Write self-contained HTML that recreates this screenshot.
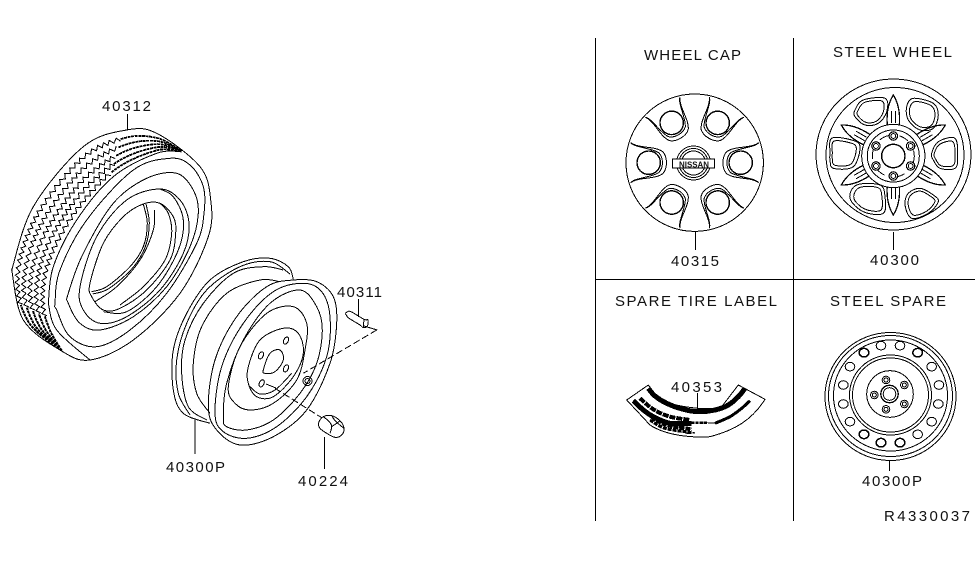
<!DOCTYPE html>
<html><head><meta charset="utf-8"><style>
html,body{margin:0;padding:0;background:#fff;width:975px;height:566px;overflow:hidden}
svg{position:absolute;left:0;top:0}
text{font-family:"Liberation Sans",sans-serif;font-size:15px;fill:#111}
#d path,#d circle,#d ellipse,#d line{fill:none;stroke:#000;stroke-width:1;shape-rendering:crispEdges}
</style></head><body>
<svg width="975" height="566" viewBox="0 0 975 566" xmlns="http://www.w3.org/2000/svg">
<rect width="975" height="566" fill="#fff"/>
<g id="d">
<line x1="595.5" y1="38" x2="595.5" y2="521"/>
<line x1="793.5" y1="38" x2="793.5" y2="521"/>
<line x1="595" y1="279.5" x2="975" y2="279.5"/>
<line x1="127.5" y1="114" x2="127.5" y2="130"/>
<line x1="195" y1="420" x2="195" y2="454"/>
<line x1="324.5" y1="437" x2="324.5" y2="469"/>
<line x1="358.5" y1="299" x2="358.5" y2="317"/>
<line x1="695.5" y1="232" x2="695.5" y2="250"/>
<line x1="893.5" y1="232" x2="893.5" y2="250"/>
<line x1="889.5" y1="460" x2="889.5" y2="471"/>
<line x1="697.5" y1="393" x2="697.5" y2="410"/>
</g>
<g>
<text x="102" y="111" textLength="49" lengthAdjust="spacing">40312</text>
<text x="337" y="297" textLength="45" lengthAdjust="spacing">40311</text>
<text x="166" y="472" textLength="59" lengthAdjust="spacing">40300P</text>
<text x="298" y="486" textLength="50" lengthAdjust="spacing">40224</text>
<text x="644" y="60" textLength="97" lengthAdjust="spacing">WHEEL CAP</text>
<text x="833" y="57" textLength="119" lengthAdjust="spacing">STEEL WHEEL</text>
<text x="671" y="266" textLength="48" lengthAdjust="spacing">40315</text>
<text x="870" y="265" textLength="49" lengthAdjust="spacing">40300</text>
<text x="615" y="306" textLength="162" lengthAdjust="spacing">SPARE TIRE LABEL</text>
<text x="830" y="306" textLength="116" lengthAdjust="spacing">STEEL SPARE</text>
<text x="671" y="392" textLength="51" lengthAdjust="spacing">40353</text>
<text x="862" y="486" textLength="60" lengthAdjust="spacing">40300P</text>
<text x="884" y="521" textLength="86" lengthAdjust="spacing">R4330037</text>
<text x="679" y="167.5" textLength="30" lengthAdjust="spacingAndGlyphs" style="font-size:8px;font-weight:bold">NISSAN</text>
</g>
</svg>
<script>
(function(){
var NS='http://www.w3.org/2000/svg',d=document.getElementById('d');
function el(t,a,p){var e=document.createElementNS(NS,t);for(var k in a)e.setAttribute(k,a[k]);(p||d).appendChild(e);return e;}
function path(s,w,g,dash){var a={d:s};var e=el('path',a,g);if(w)e.style.strokeWidth=w;if(dash)e.style.strokeDasharray=dash;return e;}
function sm(p,closed){var n=p.length,s='M'+p[0][0].toFixed(1)+','+p[0][1].toFixed(1);
 function g(i){return closed?p[(i+n)%n]:p[Math.max(0,Math.min(n-1,i))];}
 for(var i=0;i<(closed?n:n-1);i++){var a=g(i-1),b=g(i),c=g(i+1),e=g(i+2);
  s+='C'+(b[0]+(c[0]-a[0])/6).toFixed(1)+','+(b[1]+(c[1]-a[1])/6).toFixed(1)+' '+(c[0]-(e[0]-b[0])/6).toFixed(1)+','+(c[1]-(e[1]-b[1])/6).toFixed(1)+' '+c[0].toFixed(1)+','+c[1].toFixed(1);}
 return s+(closed?'Z':'');}
function Z(ox,oy){return function(a,closed,w,dash,g){var p=a.map(function(q){return [ox+q[0]/3,oy+q[1]/3];});path(sm(p,closed),w,g,dash);};}
function sample(p,m){var out=[],n=p.length;function g(i){return p[Math.max(0,Math.min(n-1,i))];}
 for(var i=0;i<n-1;i++){var a=g(i-1),b=g(i),c=g(i+1),e=g(i+2);
  for(var j=0;j<m;j++){var t=j/m,t2=t*t,t3=t2*t;
   out.push([0,1].map(function(k){return .5*(2*b[k]+(c[k]-a[k])*t+(2*a[k]-5*b[k]+4*c[k]-e[k])*t2+(3*b[k]-a[k]-3*c[k]+e[k])*t3);}));}}
 out.push(p[n-1]);return out;}

/* TIRE */
var T=Z(0,90);
T([[35,540],[100,350],[250,170],[380,120],[470,130],[600,230],[632,330],[625,440],[540,610],[400,750],[270,810],[180,780],[70,690],[35,540]]);
T([[145,640],[160,530],[230,390],[340,260],[470,190],[545,185]]);
T([[145,640],[170,720],[270,810]]);
T([[165,640],[180,540],[260,390],[400,240],[510,205],[570,225],[610,290],[612,370],[590,460],[500,610],[390,720],[290,770],[210,740],[170,660]],true);
T([[205,610],[250,490],[340,340],[440,265],[530,250],[580,300],[595,370],[570,470],[500,590],[400,680],[300,720],[240,700],[205,640]],true);
T([[240,590],[290,440],[380,330],[480,297],[540,330],[567,400],[550,490],[480,600],[380,680],[300,700],[250,660]],true);
T([[270,580],[310,460],[370,380],[430,342],[480,340],[520,380],[527,430],[510,510],[440,600],[360,655],[310,660],[275,620]],true);
T([[480,297],[520,320],[550,390],[535,480],[470,590],[380,665],[310,665]]);
T([[480,340],[505,370],[515,430],[495,510],[430,590],[360,645]]);
T([[430,342],[442,400],[430,470],[390,530],[320,590],[275,605]]);
T([[438,342],[448,400],[436,470],[396,536],[326,596],[278,612]]);
T([[463,360],[460,420],[420,510],[350,590],[285,635]]);
var B=[[185,782],[70,690],[35,540],[100,350],[250,170],[380,122],[470,135],[545,182]];
var F=[[185,782],[160,715],[145,640],[160,530],[230,390],[340,260],[470,190],[545,185]];
[.16,.33,.5,.67,.84].forEach(function(k){
 var r=B.map(function(b,i){return [(b[0]+(F[i][0]-b[0])*k)/3,90+(b[1]+(F[i][1]-b[1])*k)/3];});
 var q=sample(r,60),len=0,s='',side=1,next=0;
 var end=q.length-1,i1=Math.floor(end*.2),i2=Math.floor(end*.7);
 for(var i=i1;i<=i2;i++){if(i==0)continue;var dx=q[i][0]-q[i-1][0],dy=q[i][1]-q[i-1][1],l=Math.hypot(dx,dy);len+=l;
  if(len>=next){var nx=-dy/l,ny=dx/l,a=2.1*side;s+=(s?'L':'M')+(q[i][0]+nx*a).toFixed(1)+','+(q[i][1]+ny*a).toFixed(1);side=-side;next=len+3;}
 }
 path(s);
 var e1=q.slice(0,i1+1),e2=q.slice(i2);
 path('M'+e1.map(function(c){return c[0].toFixed(1)+','+c[1].toFixed(1);}).join('L'),2,null,'3 0.6');
 path('M'+e2.map(function(c){return c[0].toFixed(1)+','+c[1].toFixed(1);}).join('L'),1.8,null,'3 0.6');
});

/* LEFT RIM */
var W=Z(160,250);
W([[400,88],[385,50],[330,25],[250,35],[150,90],[80,190],[40,300],[40,420],[70,490],[150,520]]);
W([[390,72],[330,35],[240,50],[140,120],[80,220],[50,330],[55,430],[90,495]]);
W([[370,60],[310,50],[220,70],[130,160],[75,270],[65,370],[85,470],[140,510]]);
W([[360,95],[300,90],[200,130],[125,230],[100,340],[110,430],[150,490]]);
W([[400,90],[470,95],[520,140],[530,220],[510,340],[440,480],[340,560],[240,585],[170,540],[145,470],[165,330],[230,200],[320,110]],true);
W([[165,490],[185,350],[250,220],[340,125],[430,100],[485,125],[510,200],[500,320],[440,440],[350,530],[260,565],[190,545]],true);
W([[190,500],[200,400],[250,270],[330,160],[420,120],[470,170],[487,240],[470,340],[420,430],[340,510],[260,540],[200,530]],true);
W([[205,410],[240,290],[320,190],[400,170],[440,220],[435,300],[410,390],[340,460],[270,480],[225,460]],true);
W([[265,350],[300,270],[370,235],[415,250],[430,310],[400,380],[340,440],[290,440],[265,400]],true);
W([[270,410],[300,432],[345,420],[395,370]]);
W([[310,360],[330,310],[360,300],[370,330],[345,365],[315,370]],true);
[[378,272],[303,316],[378,355],[305,400]].forEach(function(c){
 el('ellipse',{cx:160+c[0]/3,cy:250+c[1]/3,rx:2.3,ry:3.8,transform:'rotate(25 '+(160+c[0]/3)+' '+(250+c[1]/3)+')'});
});
path('M266,384L276,388');
el('circle',{cx:307.5,cy:381,r:4.5});
el('circle',{cx:307.5,cy:381,r:2.5});
W([[650,240],[430,370]],false,1,'7 3');
W([[612,228],[652,240]]);
W([[345,415],[485,503]],false,1,'7 3');
/* valve */
W([[556,190],[565,184],[575,186],[612,208],[624,210],[622,228],[610,233],[600,225],[566,204],[556,190]],false);
W([[612,208],[610,232]]);
/* lug nut 40224 */
W([[476,518],[490,500],[515,497],[540,512],[552,535],[545,555],[525,562],[500,550],[480,535]],true);
W([[490,500],[508,515],[515,530],[510,550]]);
W([[515,497],[528,515],[552,535]]);
W([[515,530],[530,520],[540,512]]);

/* WHEEL CAP */
el('circle',{cx:694.7,cy:162.7,r:68.7});
var c=[694.7,162.7];
[-30,30,90,150,-150,-90].forEach(function(r){
 var g=el('g',{transform:'translate('+c[0]+' '+c[1]+') rotate('+r+')'});
 el('circle',{cx:0,cy:-46,r:11.7,style:'stroke-width:1.4'},g);
 path('M20,-64C14,-56 17,-40 11,-32C6,-27 -6,-27 -11,-32C-17,-40 -14,-56 -20,-64C-15,-60 -15,-44 -10,-36C-5,-31 5,-31 10,-36C15,-44 15,-60 20,-64Z',1,g);
});
el('circle',{cx:693.5,cy:163,r:17});
el('circle',{cx:693.5,cy:163,r:14.5});
el('circle',{cx:693.5,cy:163,r:12});
var lr=el('rect',{x:672.5,y:159,width:42,height:9});
lr.setAttribute('style','fill:#fff;stroke:#000;stroke-width:1;shape-rendering:crispEdges');

/* STEEL WHEEL */
el('ellipse',{cx:893.5,cy:154.5,rx:77.5,ry:75.5});
el('ellipse',{cx:895,cy:155,rx:69,ry:67.5});
var S=Z(805,70);
var win=[
[[150,120],[175,90],[240,85],[245,125],[220,160],[180,165],[150,140]],
[[305,110],[325,85],[385,100],[400,135],[385,175],[345,180],[310,150]],
[[75,250],[80,205],[140,210],[165,230],[145,290],[85,295],[75,270]],
[[380,250],[400,215],[450,205],[458,260],[450,295],[405,295],[385,270]],
[[135,385],[155,345],[225,345],[240,380],[235,430],[175,425]],
[[300,405],[310,370],[345,355],[385,375],[400,395],[370,430],[320,445]]];
win.forEach(function(w){
 S(w,true);
 var cx=0,cy=0;w.forEach(function(p){cx+=p[0];cy+=p[1];});cx/=w.length;cy/=w.length;
 S(w.map(function(p){return [cx+(p[0]-cx)*.8,cy+(p[1]-cy)*.8];}),true);
});
[0,60,120,180,240,300].forEach(function(r){
 var g=el('g',{transform:'translate(893.3 155) rotate('+r+')'});
 path('M0,-60C5,-52 7,-42 6,-30L-6,-30C-7,-42 -5,-52 0,-60Z',1.3,g);
 path('M-2,-32L-2,-44M2,-32L2,-44',1,g);
});
var hub=el('circle',{cx:893.3,cy:156,r:31.6});hub.setAttribute('style','fill:#fff;stroke:#000;stroke-width:1;shape-rendering:crispEdges');
el('circle',{cx:893.3,cy:156,r:26});
el('circle',{cx:893.3,cy:156,r:11.7,style:'stroke-width:1.4'});
el('circle',{cx:893.3,cy:156,r:21,style:'stroke-dasharray:10 11'});
[0,60,120,180,240,300].forEach(function(r){
 var a=r*Math.PI/180,x=893.3+20*Math.sin(a),y=156-20*Math.cos(a);
 el('circle',{cx:x,cy:y,r:4.2,style:'fill:#fff;stroke-width:1.2'});
 el('circle',{cx:x,cy:y,r:2.4});
});

/* STEEL SPARE */
el('ellipse',{cx:890.5,cy:396.5,rx:65.5,ry:64});
el('ellipse',{cx:890.5,cy:396,rx:62,ry:60.5});
el('ellipse',{cx:890.5,cy:395.5,rx:57,ry:55.5});
el('ellipse',{cx:890.5,cy:395,rx:41,ry:40});
el('ellipse',{cx:890.5,cy:395,rx:38,ry:37});
[[147,68],[198,47],[255,47],[308,68],[350,110],[372,165],[370,222],[350,275],[308,313],[255,338],[198,338],[147,313],[105,275],[85,222],[85,165],[105,110]].forEach(function(h,i){
 el('ellipse',{cx:815+h[0]/3,cy:330+h[1]/3,rx:4.8,ry:4.3,style:'stroke-width:'+((i==0||i==3||i>8&&i<12)?1.5:1)});
});
el('circle',{cx:890,cy:394,r:23.3});
el('circle',{cx:889.5,cy:394,r:8.7,style:'stroke-width:1.3'});
el('circle',{cx:889.5,cy:394,r:6.3});
[[213,150],[268,165],[268,222],[213,238],[178,195]].forEach(function(b){
 el('circle',{cx:815+b[0]/3,cy:330+b[1]/3,r:3.8});
 el('circle',{cx:815+b[0]/3,cy:330+b[1]/3,r:2});
});

/* LABEL */
var L=Z(620,370);
path('M626.7,400L648.3,385L660,400C680,408 715,412 723,405L738.3,385L765,399.3C752,420 735,430 710,436.7C690,438 665,435 650,425Z');
L([[85,55],[105,78],[140,100],[190,118],[235,125],[285,120],[325,105],[355,80],[375,55]],false,5);
L([[390,92],[365,115],[330,140],[285,160]],false,3);
L([[40,92],[70,120],[100,140],[150,160],[215,160]],false,5);
L([[60,85],[100,118],[150,140],[210,150]],false,4,'6 1');
L([[55,105],[95,140],[140,165],[215,178]],false,4,'5 1');
L([[50,100],[90,135],[130,155],[190,170]],false,4,'6 1');
L([[90,150],[135,175],[215,188]],false,3,'4 1');
L([[215,158],[262,158]],false,2.5,'3 1');
L([[262,158],[290,160]]);
L([[200,190],[225,188]],false,1.5,'2 1');
})();
</script>
</body></html>
